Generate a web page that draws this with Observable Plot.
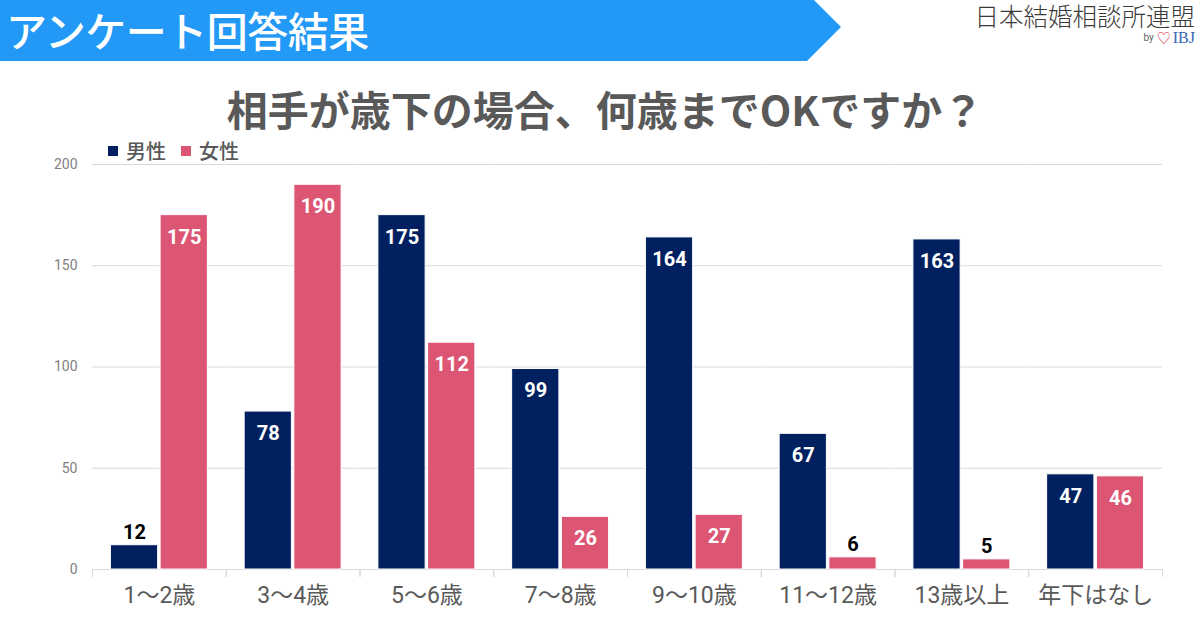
<!DOCTYPE html>
<html>
<head>
<meta charset="utf-8">
<script src="https://cdn.jsdelivr.net/npm/d3@7"></script>
<script src="https://cdn.jsdelivr.net/npm/@observablehq/plot@0.6"></script>
<style>
  html, body { margin: 0; padding: 0; background: #fff; }
  #wrap { position: relative; width: 1200px; height: 619px; overflow: hidden;
          font-family: Roboto, "Noto Sans CJK JP", sans-serif; }
  #chart { position: absolute; left: 0; top: 0; }
  #banner { position: absolute; left: 0; top: 0; width: 845px; height: 61px; background: #2399f7;
            clip-path: polygon(0 0, 814px 0, 841px 27px, 807px 61px, 0 61px); }
  #banner span { position: absolute; left: 6px; top: 3px; color: #fff; font-size: 41px; line-height: 52px;
                 font-family: "Noto Sans CJK JP", sans-serif; font-weight: 500; letter-spacing: -0.5px; white-space: nowrap; }
  #logo1 { position: absolute; right: 5px; top: 4px; font-size: 24.5px; line-height: 24px; color: #3a3a3a;
           font-family: "Noto Sans CJK JP", sans-serif; font-weight: 300; white-space: nowrap; }
  #logo2 { position: absolute; right: 5px; top: 31px; height: 14px; line-height: 14px; white-space: nowrap;
           display: flex; align-items: center; }
  #logo2 span { display: inline-block; line-height: 14px; }
  #logo2 .by { font-size: 10px; color: #666; font-family: Roboto, sans-serif; margin-right: 3px; }
  #logo2 .heart { color: #e0405a; font-size: 14px; margin-right: 2px; }
  #logo2 .ibj { color: #3a66b8; font-family: "Liberation Serif", serif; font-size: 16px; }
  #title { position: absolute; left: 0; width: 1210px; top: 83px; text-align: center; font-size: 41px;
           line-height: 50px; font-weight: 700; color: #595959; font-family: "Noto Sans CJK JP", sans-serif; white-space: nowrap; }
  #legend { position: absolute; left: 108px; top: 137px; font-size: 20px; line-height: 28px; color: #595959;
            font-family: "Noto Sans CJK JP", sans-serif; font-weight: 500; display: flex; align-items: center; }
  #legend .sw { display: inline-block; width: 10px; height: 10px; margin-right: 8px; }
  #legend .item { display: flex; align-items: center; margin-right: 15px; }
</style>
</head>
<body>
<div id="wrap">
  <div id="chart"></div>
  <div id="banner"><span>アンケート回答結果</span></div>
  <div id="logo1">日本結婚相談所連盟</div>
  <div id="logo2"><span class="by">by</span><span class="heart">♡</span><span class="ibj">IBJ</span></div>
  <div id="title">相手が歳下の場合、何歳までOKですか？</div>
  <div id="legend"></div>
</div>
<script>
// ---- data ----
const categories = ["1～2歳", "3～4歳", "5～6歳", "7～8歳", "9～10歳", "11～12歳", "13歳以上", "年下はなし"];
const series = ["男性", "女性"];
const maleValues = [12, 78, 175, 99, 164, 67, 163, 47];
const femaleValues = [175, 190, 112, 26, 27, 6, 5, 46];
const seriesColors = ["#002060", "#dc5572"];
const yTicks = [0, 50, 100, 150, 200];

const rows = [];
categories.forEach((c, i) => {
  rows.push({cat: c, sex: series[0], value: maleValues[i]});
  rows.push({cat: c, sex: series[1], value: femaleValues[i]});
});

// legend
const legend = document.getElementById("legend");
series.forEach((s, i) => {
  const it = document.createElement("span");
  it.className = "item";
  it.innerHTML = `<span class="sw" style="background:${seriesColors[i]}"></span>${s}`;
  legend.appendChild(it);
});

const W = 1200, H = 619, mL = 92, mR = 38, mT = 164, mB = 50;
const halfBand = (W - mL - mR) / categories.length / 2;
const inside = rows.filter(d => d.value >= 20);
const outside = rows.filter(d => d.value < 20);

const chart = Plot.plot({
  width: W, height: H,
  marginLeft: mL, marginRight: mR, marginTop: mT, marginBottom: mB,
  style: {fontFamily: 'Roboto, "Noto Sans CJK JP", sans-serif', background: "transparent"},
  fx: {domain: categories, padding: 0, round: false},
  x: {domain: series, paddingInner: 0.05, paddingOuter: 0.37, round: false, axis: null},
  y: {domain: [0, 200]},
  color: {domain: series, range: seriesColors},
  marks: [
    Plot.gridY(yTicks.slice(1), {stroke: "#d9d9d9", strokeOpacity: 1, strokeWidth: 1}),
    Plot.ruleY([0], {stroke: "#d9d9d9", strokeWidth: 1.2}),
    Plot.axisY(yTicks, {tickSize: 0, tickPadding: 15, fontSize: 14, fill: "#7f7f7f", label: null}),
    Plot.barY(rows, {fx: "cat", x: "sex", y: "value", fill: "sex", stroke: "white", strokeWidth: 1}),
    Plot.text(inside, {fx: "cat", x: "sex", y: "value", text: d => String(d.value), dy: 22,
      fill: "white", fontWeight: "bold", fontSize: 20}),
    Plot.text(outside, {fx: "cat", x: "sex", y: "value", text: d => String(d.value), dy: -13,
      fill: "black", fontWeight: "bold", fontSize: 20}),
    Plot.axisFx({anchor: "bottom", tickSize: 0, tickPadding: 17, fontSize: 23, fill: "#595959", label: null}),
    Plot.axisFx({anchor: "bottom", tickSize: 8, tickFormat: () => "", dx: -halfBand, stroke: "#d9d9d9", label: null}),
    Plot.axisFx([categories[categories.length - 1]], {anchor: "bottom", tickSize: 8, tickFormat: () => "", dx: halfBand, stroke: "#d9d9d9", label: null})
  ]
});
document.getElementById("chart").appendChild(chart);
</script>
</body>
</html>
